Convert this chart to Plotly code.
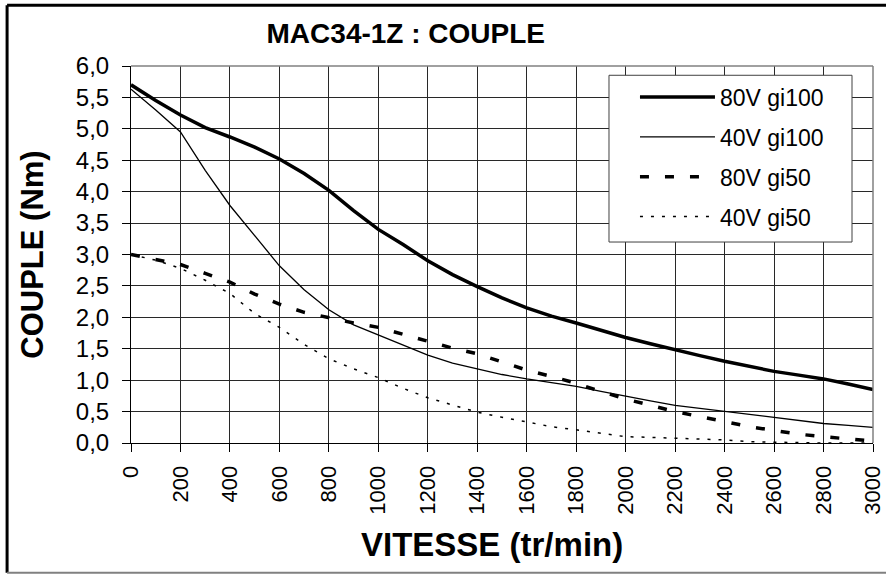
import plotly.graph_objects as go

# speed (tr/min) and torque (Nm)
speed = list(range(0, 3001, 100))

torque_80v_gi100 = [5.70, 5.45, 5.22, 5.02, 4.87, 4.71, 4.52, 4.29, 4.02, 3.70,
                    3.40, 3.16, 2.90, 2.68, 2.49, 2.31, 2.15, 2.02, 1.91, 1.79,
                    1.68, 1.58, 1.48, 1.39, 1.30, 1.22, 1.14, 1.08, 1.02, 0.94, 0.85]
torque_40v_gi100 = [5.63, 5.30, 4.95, 4.34, 3.78, 3.30, 2.82, 2.44, 2.12, 1.88,
                    1.72, 1.56, 1.40, 1.27, 1.18, 1.09, 1.02, 0.96, 0.90, 0.82,
                    0.74, 0.67, 0.60, 0.55, 0.50, 0.45, 0.41, 0.36, 0.31, 0.28, 0.25]
torque_80v_gi50 = [3.00, 2.92, 2.84, 2.70, 2.56, 2.37, 2.21, 2.08, 1.99, 1.91,
                   1.84, 1.73, 1.61, 1.51, 1.42, 1.29, 1.16, 1.06, 0.95, 0.82,
                   0.70, 0.60, 0.50, 0.42, 0.34, 0.26, 0.20, 0.14, 0.10, 0.06, 0.03]
torque_40v_gi50 = [3.00, 2.91, 2.78, 2.59, 2.38, 2.06, 1.84, 1.57, 1.34, 1.18,
                   1.04, 0.87, 0.72, 0.60, 0.49, 0.41, 0.33, 0.26, 0.21, 0.16,
                   0.10, 0.09, 0.08, 0.06, 0.05, 0.02, 0.01, 0.01, 0.00, 0.00, 0.00]

series = [
    ("80V gi100", torque_80v_gi100, dict(color="black", width=3.5)),
    ("40V gi100", torque_40v_gi100, dict(color="black", width=1.3)),
    ("80V gi50", torque_80v_gi50, dict(color="black", width=3.5, dash="9px,16px")),
    ("40V gi50", torque_40v_gi50, dict(color="black", width=1.5, dash="3px,8px")),
]

FONT = "Liberation Sans, Arial, sans-serif"

fig = go.Figure()
for name, values, line in series:
    fig.add_trace(go.Scatter(
        x=speed, y=values, mode="lines", name=name,
        line=line, legendgroup=name,
    ))

axis_common = dict(
    showgrid=True, gridcolor="#282828", gridwidth=1,
    showline=True, linecolor="black", linewidth=1,
    ticks="outside", ticklen=8, tickcolor="black",
    zeroline=False,
)

fig.update_xaxes(
    range=[0, 3000], dtick=200, tick0=0, tickangle=-90, tickformat="d",
    ticklabelstandoff=5, ticklabeloverflow="allow",
    tickfont=dict(family=FONT, size=22, color="black"),
    **axis_common,
)
fig.update_yaxes(
    range=[0, 6], dtick=0.5, tick0=0, tickformat=".1f", ticklabelstandoff=8,
    tickfont=dict(family=FONT, size=24, color="black"),
    title=dict(text="<b>COUPLE (Nm)</b>", standoff=22,
               font=dict(family=FONT, size=31, color="black")),
    **axis_common,
)

# x axis title, placed as in the original
fig.add_annotation(text="<b>VITESSE (tr/min)</b>", xref="paper", yref="paper",
                   x=0.487, y=-0.27, xanchor="center", yanchor="middle", showarrow=False,
                   font=dict(family=FONT, size=33, color="black"))

# plot frame (gray top/right) and outer chart frame
fig.add_shape(type="line", xref="paper", yref="paper", x0=0, x1=1, y0=1, y1=1,
              line=dict(color="#808080", width=1.5))
fig.add_shape(type="line", xref="paper", yref="paper", x0=1, x1=1, y0=0, y1=1,
              line=dict(color="#808080", width=1.5))
fig.add_shape(type="line", xref="paper", yref="paper", x0=-0.167, x1=1.03, y0=1.161, y1=1.161,
              line=dict(color="black", width=3))
fig.add_shape(type="line", xref="paper", yref="paper", x0=-0.167, x1=-0.167, y0=-0.344, y1=1.161,
              line=dict(color="black", width=3))
fig.add_shape(type="line", xref="paper", yref="paper", x0=-0.167, x1=1.03, y0=-0.344, y1=-0.344,
              line=dict(color="#808080", width=2))
# legend box
fig.add_shape(type="rect", xref="paper", yref="paper", x0=0.6442, x1=0.9717, y0=0.5331, y1=0.9754,
              line=dict(color="#404040", width=1), fillcolor="white", layer="above")

fig.update_layout(
    width=886, height=574,
    margin=dict(l=131, r=13, t=66, b=131, autoexpand=False),
    paper_bgcolor="white", plot_bgcolor="white",
    separators=", ",
    font=dict(family=FONT, color="black"),
    title=dict(text="<b>MAC34-1Z : COUPLE</b>", x=0.458, xanchor="center",
               y=0.943, yanchor="middle", font=dict(family=FONT, size=28, color="black")),
    legend=dict(
        x=0.6792, y=0.975, xanchor="left", yanchor="top",
        bgcolor="rgba(0,0,0,0)", borderwidth=0,
        font=dict(family=FONT, size=23, color="black"),
        itemwidth=75, tracegroupgap=7,
    ),
    showlegend=True,
)

fig.write_html("out.html", config={"displayModeBar": False},
               post_script="document.body.style.margin='0px';")
